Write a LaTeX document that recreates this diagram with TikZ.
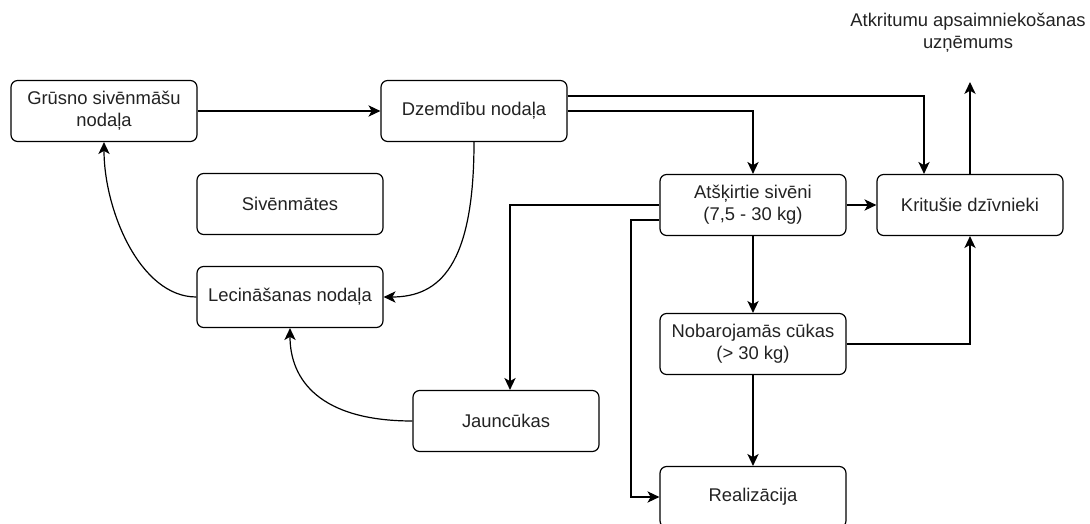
\documentclass[tikz,border=0pt]{standalone}
\usepackage{fontspec}
\setmainfont{Liberation Sans}
\usetikzlibrary{arrows.meta}
\definecolor{txt}{HTML}{222222}
\begin{document}
\begin{tikzpicture}[x=0.75pt,y=-0.75pt,
  box/.style={draw,rounded corners=5pt,line width=0.9pt,minimum width=139.5pt,minimum height=45.75pt,inner sep=1pt,align=center,font=\fontsize{13.8pt}{16.5pt}\selectfont,text=txt},
  conn/.style={line width=0.9pt,-{Stealth[length=9pt,width=8.5pt,inset=2.5pt]}},
  lbl/.style={align=center,font=\fontsize{13.8pt}{16.5pt}\selectfont,text=txt}]
\useasboundingbox (0,0) rectangle (1090,524);
\node[box] (gr) at (104,111) {Grūsno sivēnmāšu\\nodaļa};
\node[box] (dz) at (474,111) {Dzemdību nodaļa};
\node[box] (sv) at (290,204) {Sivēnmātes};
\node[box] (le) at (290,297) {Lecināšanas nodaļa};
\node[box] (at) at (753,205) {Atšķirtie sivēni\\(7,5 - 30 kg)};
\node[box] (kr) at (970,205) {Kritušie dzīvnieki};
\node[box] (nb) at (753,344) {Nobarojamās cūkas\\(> 30 kg)};
\node[box] (ja) at (506,421) {Jauncūkas};
\node[box] (re) at (753,497) {Realizācija};
\node[lbl] (ak) at (968,33) {Atkritumu apsaimniekošanas\\uzņēmums};
\coordinate (akin) at (970,82);

\draw[conn] (gr.east) -- (dz.west);
\draw[conn] (dz.east |- 0,96) -| (kr.north -| 924,0);
\draw[conn] (dz.east) -| (at.north);
\draw[conn] (at.east) -- (kr.west);
\draw[conn] (at.west) -| (ja.north -| 510,0);
\draw[conn] (at.west |- 0,220) -| (631,497) -- (re.west);
\draw[conn] (at.south) -- (nb.north);
\draw[conn] (nb.south) -- (re.north);
\draw[conn] (nb.east) -| (kr.south);
\draw[conn] (kr.north) -- (akin);
\draw[conn] (dz.south) .. controls (474,265) and (440,297) .. (le.east);
\draw[conn] (le.west) .. controls (140,297) and (104,210) .. (gr.south);
\draw[conn] (ja.west) .. controls (320,421) and (290,380) .. (le.south);
\end{tikzpicture}
\end{document}
